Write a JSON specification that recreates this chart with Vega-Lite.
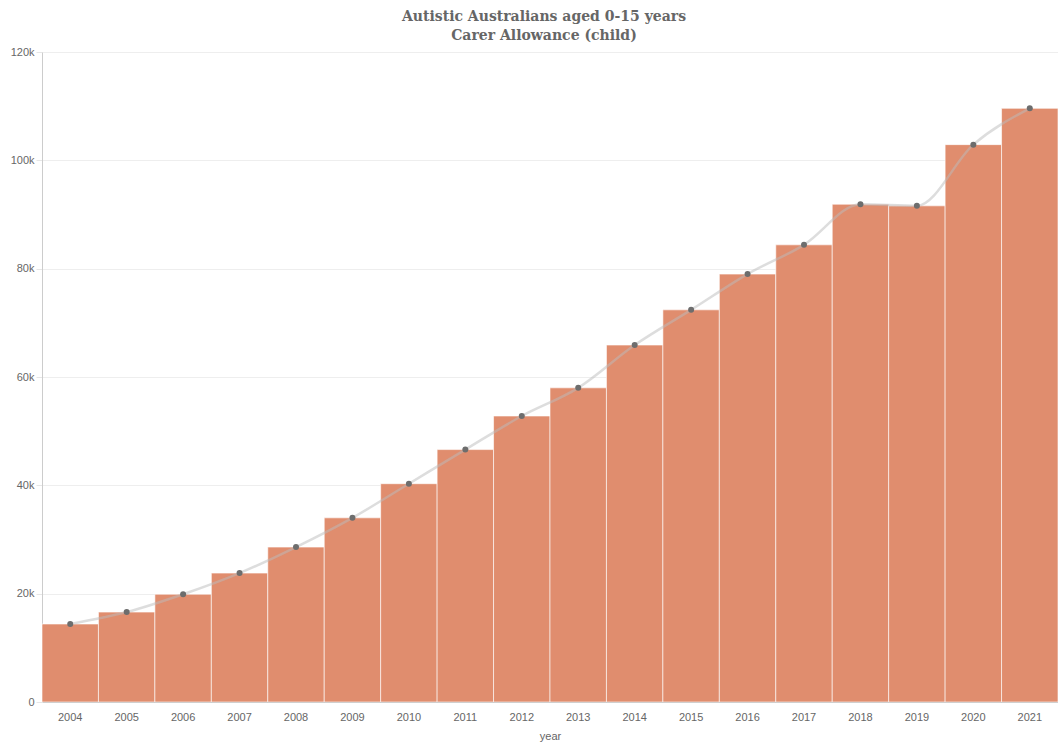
{
  "$schema": "https://vega.github.io/schema/vega-lite/v6.json",
  "width": 1016,
  "height": 650,
  "autosize": {"type": "none"},
  "padding": {"left": 42, "top": 52, "right": 0, "bottom": 41},
  "background": "white",
  "title": {
    "text": ["Autistic Australians aged 0-15 years", "Carer Allowance (child)"],
    "font": "DejaVu Serif",
    "fontSize": 14,
    "fontWeight": "bold",
    "color": "#666666",
    "anchor": "middle",
    "offset": 3,
    "dx": -6,
    "lineHeight": 19
  },
  "config": {
    "view": {"stroke": null},
    "axis": {
      "labelFont": "Liberation Sans",
      "labelFontSize": 11,
      "labelColor": "#666666",
      "titleFont": "Liberation Sans",
      "titleFontSize": 11,
      "titleColor": "#666666",
      "titleFontWeight": "normal",
      "domainColor": "#cccccc",
      "tickColor": "#e6e6e6",
      "gridColor": "#eeeeee"
    }
  },
  "data": {
    "values": [
      {"year": "2004", "value": 14400},
      {"year": "2005", "value": 16600},
      {"year": "2006", "value": 19900},
      {"year": "2007", "value": 23800},
      {"year": "2008", "value": 28600},
      {"year": "2009", "value": 34000},
      {"year": "2010", "value": 40300},
      {"year": "2011", "value": 46600},
      {"year": "2012", "value": 52800},
      {"year": "2013", "value": 58000},
      {"year": "2014", "value": 65900},
      {"year": "2015", "value": 72400},
      {"year": "2016", "value": 79000},
      {"year": "2017", "value": 84400},
      {"year": "2018", "value": 91900},
      {"year": "2019", "value": 91600},
      {"year": "2020", "value": 102900},
      {"year": "2021", "value": 109600}
    ]
  },
  "encoding": {
    "x": {
      "field": "year",
      "type": "ordinal",
      "scale": {"paddingInner": 0, "paddingOuter": 0},
      "axis": {"labelAngle": 0, "title": "year", "ticks": false, "labelPadding": 9, "titlePadding": 8, "domainColor": "#bbbbbb"}
    },
    "y": {
      "field": "value",
      "type": "quantitative",
      "scale": {"domain": [0, 120000], "nice": false},
      "axis": {"values": [0, 20000, 40000, 60000, 80000, 100000, 120000], "labelExpr": "datum.value == 0 ? '0' : format(datum.value, '~s')", "title": null, "tickSize": 6, "labelPadding": 2, "domain": true}
    }
  },
  "layer": [
    {
      "mark": {"type": "bar", "color": "#e08d6e", "stroke": "#ffffff", "strokeWidth": 1, "strokeOpacity": 0.6}
    },
    {
      "mark": {"type": "line", "interpolate": "monotone", "color": "#bbbbbb", "strokeWidth": 2.5, "opacity": 0.5}
    },
    {
      "mark": {"type": "point", "filled": true, "color": "#6d6d6d", "size": 36, "opacity": 1}
    }
  ]
}
